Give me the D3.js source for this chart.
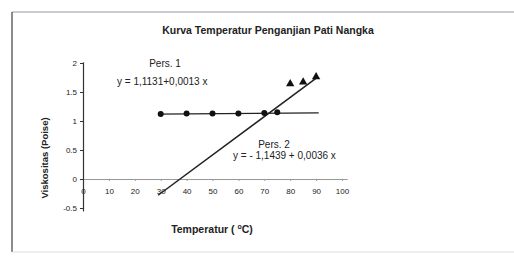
<!DOCTYPE html>
<html>
<head>
<meta charset="utf-8">
<script src="https://cdn.jsdelivr.net/npm/d3@7"></script>
<style>
  body { margin: 0; background: #fff; }
  svg text { font-family: "Liberation Sans", Arial, sans-serif; fill: #222; }
</style>
</head>
<body>
<div id="chart"></div>
<script>
// data
var circleX = [30, 40, 50, 60, 70, 75];
var circleY = [1.12, 1.13, 1.13, 1.13, 1.14, 1.15];
var triX = [80, 85, 90];
var triY = [1.64, 1.67, 1.76];
var line1 = [[29, 1.12], [91, 1.14]];     // Pers. 1
var line2 = [[29, -0.28], [90.7, 1.76]];  // Pers. 2
var xTicks = [0, 10, 20, 30, 40, 50, 60, 70, 80, 90, 100];
var yTicks = [-0.5, 0, 0.5, 1, 1.5, 2];

var W = 514, H = 256;

var svg = d3.select("#chart").append("svg")
            .attr("width", W)
            .attr("height", H);

// scan frame
svg.append("rect").attr("width", W).attr("height", H).attr("fill", "#fff");
svg.append("line").attr("x1", 12).attr("x2", W).attr("y1", 12).attr("y2", 12)
   .attr("stroke", "#b8b8c0").attr("stroke-width", 1.5);
svg.append("line").attr("x1", 12).attr("x2", 12).attr("y1", 12).attr("y2", 252)
   .attr("stroke", "#666").attr("stroke-width", 1.5);
svg.append("line").attr("x1", 12).attr("x2", W).attr("y1", 252).attr("y2", 252)
   .attr("stroke", "#ddd").attr("stroke-width", 1);

// scales
var x = d3.scaleLinear().domain([0, 102]).range([83, 83 + 102 * 2.59]);
var y = d3.scaleLinear().domain([-0.55, 2.02]).range([179 + 0.55 * 58, 179 - 2.02 * 58]);

// x axis sits on y = 0
var gx = svg.append("g")
   .attr("transform", "translate(0," + y(0) + ")")
   .call(d3.axisBottom(x).tickValues(xTicks).tickSize(2).tickSizeOuter(0).tickPadding(7)
           .tickFormat(d3.format("d")));
gx.select(".domain").attr("stroke", "#999");
gx.selectAll(".tick line").attr("stroke", "#999");
gx.selectAll("text").style("font-size", "8px").attr("fill", "#333");

var gy = svg.append("g")
   .attr("transform", "translate(" + x(0) + ",0)")
   .call(d3.axisLeft(y).tickValues(yTicks).tickSize(3).tickSizeOuter(0).tickPadding(3)
           .tickFormat(function(d) { return String(d); }));
gy.select(".domain").attr("stroke", "#333").attr("stroke-width", 1.2);
gy.selectAll(".tick line").attr("stroke", "#333");
gy.selectAll("text").style("font-size", "8px").attr("fill", "#333");

// fitted lines
var path = d3.line().x(function(d) { return x(d[0]); }).y(function(d) { return y(d[1]); });
svg.append("path").datum(line1).attr("d", path)
   .attr("fill", "none").attr("stroke", "#222").attr("stroke-width", 1.3);
svg.append("path").datum(line2).attr("d", path)
   .attr("fill", "none").attr("stroke", "#222").attr("stroke-width", 1.5);

// markers
svg.append("g").selectAll("circle")
   .data(circleX)
   .enter().append("circle")
   .attr("cx", function(d) { return x(d); })
   .attr("cy", function(d, i) { return y(circleY[i]); })
   .attr("r", 3)
   .attr("fill", "#111");

svg.append("g").selectAll("path")
   .data(triX)
   .enter().append("path")
   .attr("d", d3.symbol().type(d3.symbolTriangle).size(30))
   .attr("transform", function(d, i) { return "translate(" + x(d) + "," + y(triY[i]) + ")"; })
   .attr("fill", "#111");

// texts
svg.append("text").attr("x", 268).attr("y", 34).attr("text-anchor", "middle")
   .style("font-size", "10.5px").style("font-weight", "bold")
   .text("Kurva Temperatur Penganjian Pati Nangka");

svg.append("text").attr("x", 165).attr("y", 67).attr("text-anchor", "middle")
   .style("font-size", "10px").text("Pers. 1");
svg.append("text").attr("x", 117).attr("y", 85)
   .style("font-size", "10px").text("y =  1,1131+0,0013 x");

svg.append("text").attr("x", 274).attr("y", 148).attr("text-anchor", "middle")
   .style("font-size", "10px").text("Pers. 2");
svg.append("text").attr("x", 233).attr("y", 159)
   .style("font-size", "10px").text("y = - 1,1439 + 0,0036 x");

svg.append("text")
   .attr("transform", "translate(48,158) rotate(-90)")
   .attr("text-anchor", "middle")
   .style("font-size", "9.5px").style("font-weight", "bold")
   .text("Viskositas (Poise)");

var xl = svg.append("text").attr("x", 212).attr("y", 233).attr("text-anchor", "middle")
   .style("font-size", "10.5px").style("font-weight", "bold");
xl.append("tspan").text("Temperatur   ( ");
xl.append("tspan").attr("dy", -4).style("font-size", "7px").text("o");
xl.append("tspan").attr("dy", 4).text("C)");
</script>
</body>
</html>
